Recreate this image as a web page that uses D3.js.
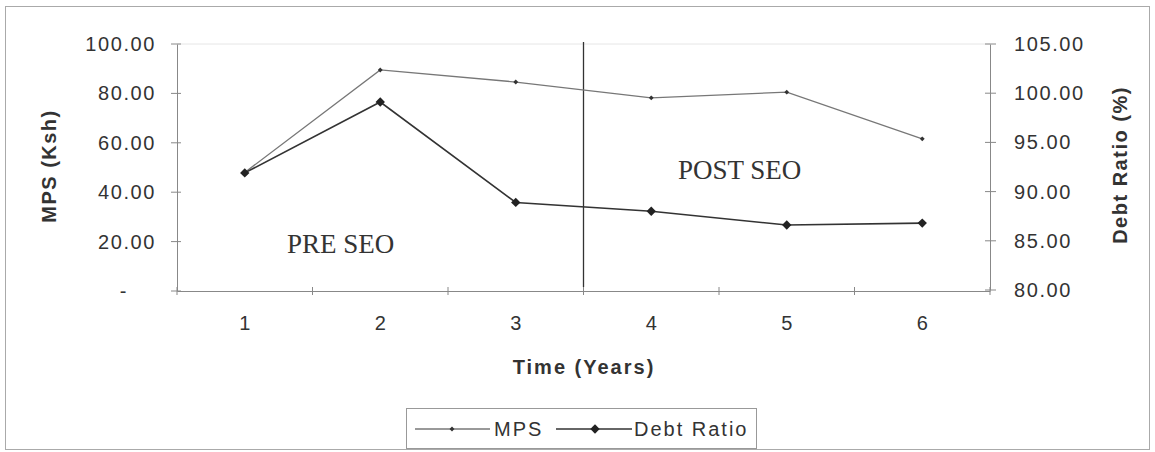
<!DOCTYPE html>
<html><head><meta charset="utf-8">
<script src="https://cdn.jsdelivr.net/npm/d3@7"></script>
<style>body{margin:0;background:#fff}svg{display:block}</style>
</head><body>
<script>
const years = [1, 2, 3, 4, 5, 6];
const mps = [48.0, 89.5, 84.6, 78.2, 80.5, 61.6];
const debtRatio = [91.9, 99.1, 88.9, 88.0, 86.6, 86.8];
const leftTicks = [0, 20, 40, 60, 80, 100];
const rightTicks = [80, 85, 90, 95, 100, 105];

const W = 1155, H = 452;
const m = {l: 177, r: 990, t: 44, b: 291};
const svg = d3.select("body").append("svg").attr("width", W).attr("height", H);
const font = "Arial, 'Liberation Sans', sans-serif";
const ink = "#333";

svg.append("rect").attr("x", 5.5).attr("y", 6.5).attr("width", 1144).attr("height", 443)
  .attr("fill", "none").attr("stroke", "#aaa").attr("stroke-width", 1);

const x = d3.scaleBand().domain(years).range([m.l, m.r]);
const yL = d3.scaleLinear().domain([0, 100]).range([m.b, m.t]);
const yR = d3.scaleLinear().domain([80, 105]).range([m.b - 1, m.t]);

const diamond = d3.symbol(d3.symbolSquare);

// top faint border
svg.append("line").attr("x1", m.l).attr("x2", m.r).attr("y1", m.t).attr("y2", m.t)
  .attr("stroke", "#e6e6e6");

function styleTicks(g, ls) {
  g.selectAll("text").attr("font-family", font).attr("font-size", 20)
    .attr("letter-spacing", ls).attr("fill", ink);
}

// x axis
const xAxis = svg.append("g").attr("transform", `translate(0,${m.b})`)
  .call(d3.axisBottom(x).tickSize(0).tickPadding(25));
xAxis.select(".domain").attr("stroke", "#888");
styleTicks(xAxis, 0);
svg.append("g").selectAll("line").data(d3.range(years.length + 1)).join("line")
  .attr("x1", i => m.l + i * x.step()).attr("x2", i => m.l + i * x.step())
  .attr("y1", m.b - 4).attr("y2", m.b + 4).attr("stroke", "#888");

// left axis
const lAxis = svg.append("g").attr("transform", `translate(${m.l},0)`)
  .call(d3.axisLeft(yL).tickValues(leftTicks).tickSize(0).tickPadding(21)
    .tickFormat(d => d === 0 ? "-" : d3.format(".2f")(d)));
lAxis.select(".domain").attr("stroke", "#888");
styleTicks(lAxis, 1.6);
lAxis.selectAll(".tick").filter(d => d === 0).select("text").attr("dx", -28);
svg.append("g").selectAll("line").data(leftTicks).join("line")
  .attr("x1", m.l - 6).attr("x2", m.l + 4).attr("y1", d => yL(d)).attr("y2", d => yL(d))
  .attr("stroke", "#888");

// right axis
const rAxis = svg.append("g").attr("transform", `translate(${m.r},0)`)
  .call(d3.axisRight(yR).tickValues(rightTicks).tickSize(0).tickPadding(24)
    .tickFormat(d3.format(".2f")));
rAxis.select(".domain").attr("stroke", "#888");
styleTicks(rAxis, 1.6);
svg.append("g").selectAll("line").data(rightTicks).join("line")
  .attr("x1", m.r - 5).attr("x2", m.r + 6).attr("y1", d => yR(d)).attr("y2", d => yR(d))
  .attr("stroke", "#888");

// axis titles
function title(t, txt, ls) {
  return svg.append("text").attr("transform", t).attr("text-anchor", "middle")
    .attr("font-family", font).attr("font-size", 20).attr("font-weight", "bold")
    .attr("letter-spacing", ls).attr("fill", ink).text(txt);
}
title("translate(56,166) rotate(-90)", "MPS (Ksh)", 1.5);
title("translate(1127,165) rotate(-90)", "Debt Ratio (%)", 1.5);
title("translate(584,374)", "Time (Years)", 2);

// divider
svg.append("line").attr("x1", m.l + 3 * x.step()).attr("x2", m.l + 3 * x.step())
  .attr("y1", 42).attr("y2", 287).attr("stroke", ink).attr("stroke-width", 1.3);

// annotations
const serif = "'Liberation Serif', 'Times New Roman', serif";
svg.append("text").attr("x", 287).attr("y", 253).attr("font-family", serif).attr("font-size", 27)
  .attr("fill", ink).text("PRE SEO");
svg.append("text").attr("x", 678).attr("y", 179).attr("font-family", serif).attr("font-size", 27)
  .attr("fill", ink).text("POST SEO");

const cx = d => x(d) + x.bandwidth() / 2;

// MPS line
svg.append("path").datum(years.map((d, i) => [cx(d), yL(mps[i])]))
  .attr("d", d3.line()).attr("fill", "none").attr("stroke", "#777").attr("stroke-width", 1.3);
svg.append("g").selectAll("path").data(years).join("path")
  .attr("d", diamond.size(12)())
  .attr("transform", (d, i) => `translate(${cx(d)},${yL(mps[i])}) rotate(45)`).attr("fill", ink);

// Debt ratio line
svg.append("path").datum(years.map((d, i) => [cx(d), yR(debtRatio[i])]))
  .attr("d", d3.line()).attr("fill", "none").attr("stroke", ink).attr("stroke-width", 1.6);
svg.append("g").selectAll("path").data(years).join("path")
  .attr("d", diamond.size(44)())
  .attr("transform", (d, i) => `translate(${cx(d)},${yR(debtRatio[i])}) rotate(45)`).attr("fill", "#222");

// legend
const lg = svg.append("g");
lg.append("rect").attr("x", 406.5).attr("y", 408.5).attr("width", 350).attr("height", 40)
  .attr("fill", "#fff").attr("stroke", "#999");
lg.append("line").attr("x1", 415).attr("x2", 490).attr("y1", 429).attr("y2", 429).attr("stroke", "#777").attr("stroke-width", 1.3);
lg.append("path").attr("d", diamond.size(12)()).attr("transform", "translate(452,429) rotate(45)").attr("fill", ink);
lg.append("text").attr("x", 494).attr("y", 436).attr("font-family", font).attr("font-size", 20)
  .attr("letter-spacing", 2).attr("fill", ink).text("MPS");
lg.append("line").attr("x1", 556).attr("x2", 632).attr("y1", 429).attr("y2", 429).attr("stroke", ink).attr("stroke-width", 1.6);
lg.append("path").attr("d", diamond.size(44)()).attr("transform", "translate(595,429) rotate(45)").attr("fill", "#222");
lg.append("text").attr("x", 634).attr("y", 436).attr("font-family", font).attr("font-size", 20)
  .attr("letter-spacing", 2).attr("fill", ink).text("Debt Ratio");
</script>
</body></html>
